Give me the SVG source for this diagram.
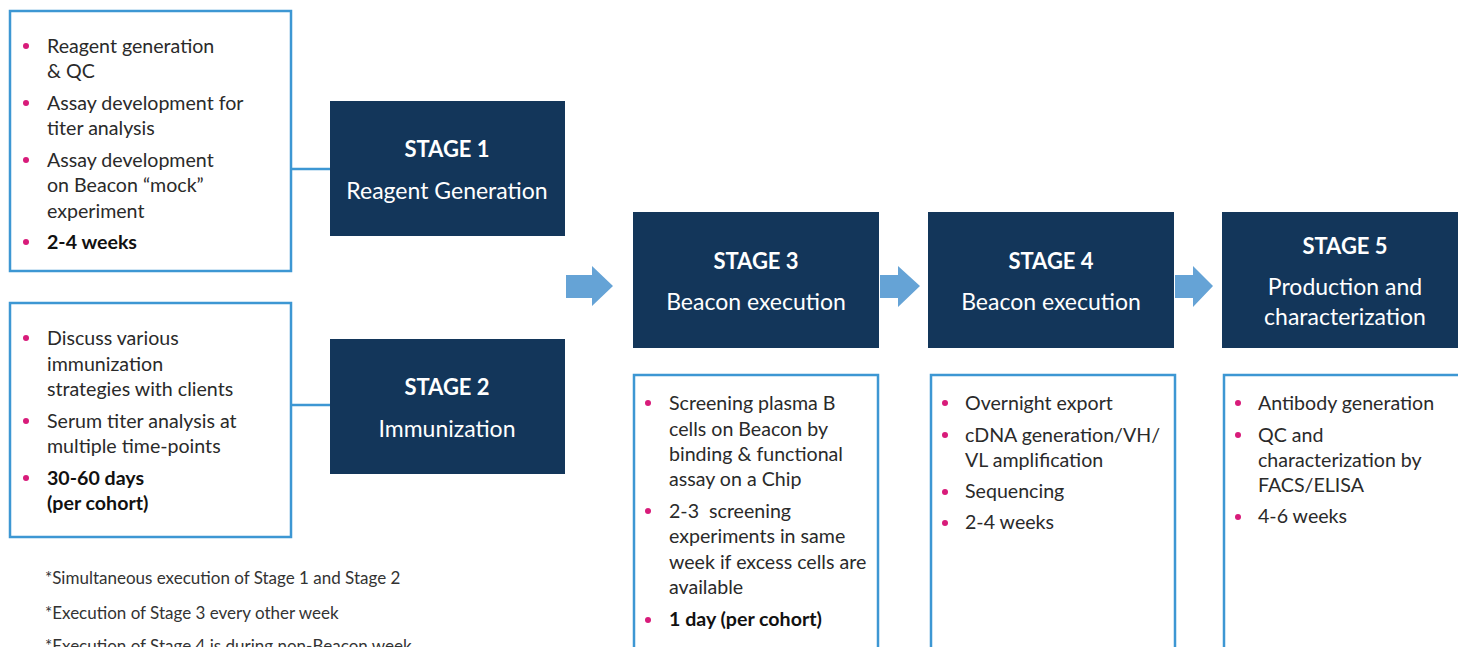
<svg xmlns="http://www.w3.org/2000/svg" width="1458" height="647" viewBox="0 0 1458 647">
<style>
.out{fill:#fff;stroke:#3d97d3;stroke-width:2.5}
.stage{fill:#13365a}
.t{font-family:Lato,"Source Sans Pro","Noto Sans",sans-serif;font-size:19.6px;fill:#2a2a2a}
.b{font-weight:bold;fill:#111}
.dot{fill:#d81b7a}
.h{font-family:Lato,"Noto Sans",sans-serif;fill:#fff;text-anchor:middle}
.h1{font-size:22px;font-weight:bold}
.h2{font-size:23px}
.fn{font-family:Lato,"Noto Sans",sans-serif;font-size:17px;fill:#333}
.conn{stroke:#3d97d3;stroke-width:2.5;fill:none}
.arr{fill:#65a3d6}
</style>
<rect width="1458" height="647" fill="#fff"/>
<g id="connectors">
<line class="conn" x1="291" y1="169" x2="330" y2="169"/>
<line class="conn" x1="291" y1="405" x2="330" y2="405"/>
<polygon class="arr" points="566,275 592,275 592,266 613,286 592,306 592,298 566,298"/>
<polygon class="arr" points="880,275 898,275 898,266 920,286 898,307 898,298 880,298"/>
<polygon class="arr" points="1175,275 1193,275 1193,266 1213,286 1193,307 1193,298 1175,298"/>
</g>
<g id="box1">
<rect class="out" x="10" y="11" width="281" height="260"/>
<circle class="dot" cx="26" cy="46" r="3"/><circle class="dot" cx="26" cy="103" r="3"/><circle class="dot" cx="26" cy="160" r="3"/><circle class="dot" cx="26" cy="242" r="3"/>
<text class="t" x="47" y="53">Reagent generation</text>
<text class="t" x="47" y="78">&amp; QC</text>
<text class="t" x="47" y="110">Assay development for</text>
<text class="t" x="47" y="135">titer analysis</text>
<text class="t" x="47" y="167">Assay development</text>
<text class="t" x="47" y="192">on Beacon “mock”</text>
<text class="t" x="47" y="218">experiment</text>
<text class="t b" x="47" y="249">2-4 weeks</text>
</g>
<g id="stage1">
<rect class="stage" x="330" y="101" width="235" height="135"/>
<text class="h h1" x="447" y="157">STAGE 1</text>
<text class="h h2" x="447" y="199">Reagent Generation</text>
</g>
<g id="box2">
<rect class="out" x="10" y="303" width="281" height="234"/>
<circle class="dot" cx="26" cy="338" r="3"/><circle class="dot" cx="26" cy="421" r="3"/><circle class="dot" cx="26" cy="478" r="3"/>
<text class="t" x="47" y="345">Discuss various</text>
<text class="t" x="47" y="371">immunization</text>
<text class="t" x="47" y="396">strategies with clients</text>
<text class="t" x="47" y="428">Serum titer analysis at</text>
<text class="t" x="47" y="453">multiple time-points</text>
<text class="t b" x="47" y="485">30-60 days</text>
<text class="t b" x="47" y="510">(per cohort)</text>
</g>
<g id="stage2">
<rect class="stage" x="330" y="339" width="235" height="135"/>
<text class="h h1" x="447" y="395">STAGE 2</text>
<text class="h h2" x="447" y="437">Immunization</text>
</g>
<g id="notes">
<text class="fn" x="45" y="584">*Simultaneous execution of Stage 1 and Stage 2</text>
<text class="fn" x="45" y="619">*Execution of Stage 3 every other week</text>
<text class="fn" x="45" y="652">*Execution of Stage 4 is during non-Beacon week</text>
</g>
<g id="stage3">
<rect class="stage" x="633" y="212" width="246" height="136"/>
<text class="h h1" x="756" y="269">STAGE 3</text>
<text class="h h2" x="756" y="310">Beacon execution</text>
</g>
<g id="box3">
<rect class="out" x="634" y="375" width="244" height="280"/>
<circle class="dot" cx="648" cy="403" r="3"/><circle class="dot" cx="648" cy="511" r="3"/><circle class="dot" cx="648" cy="620" r="3"/>
<text class="t" x="669" y="410">Screening plasma B</text>
<text class="t" x="669" y="436">cells on Beacon by</text>
<text class="t" x="669" y="461">binding &amp; functional</text>
<text class="t" x="669" y="486">assay on a Chip</text>
<text class="t" x="669" y="518" xml:space="preserve">2-3  screening</text>
<text class="t" x="669" y="543">experiments in same</text>
<text class="t" x="669" y="569">week if excess cells are</text>
<text class="t" x="669" y="594">available</text>
<text class="t b" x="669" y="626">1 day (per cohort)</text>
</g>
<g id="stage4">
<rect class="stage" x="928" y="212" width="246" height="136"/>
<text class="h h1" x="1051" y="269">STAGE 4</text>
<text class="h h2" x="1051" y="310">Beacon execution</text>
</g>
<g id="box4">
<rect class="out" x="931" y="375" width="244" height="280"/>
<circle class="dot" cx="945" cy="403" r="3"/><circle class="dot" cx="945" cy="435" r="3"/><circle class="dot" cx="945" cy="492" r="3"/><circle class="dot" cx="945" cy="523" r="3"/>
<text class="t" x="965" y="410">Overnight export</text>
<text class="t" x="965" y="442">cDNA generation/VH/</text>
<text class="t" x="965" y="467">VL amplification</text>
<text class="t" x="965" y="498">Sequencing</text>
<text class="t" x="965" y="529">2-4 weeks</text>
</g>
<g id="stage5">
<rect class="stage" x="1222" y="212" width="240" height="136"/>
<text class="h h1" x="1345" y="254">STAGE 5</text>
<text class="h h2" x="1345" y="295">Production and</text>
<text class="h h2" x="1345" y="325">characterization</text>
</g>
<g id="box5">
<rect class="out" x="1224" y="375" width="240" height="280"/>
<circle class="dot" cx="1238" cy="403" r="3"/><circle class="dot" cx="1238" cy="435" r="3"/><circle class="dot" cx="1238" cy="517" r="3"/>
<text class="t" x="1258" y="410">Antibody generation</text>
<text class="t" x="1258" y="442">QC and</text>
<text class="t" x="1258" y="467">characterization by</text>
<text class="t" x="1258" y="492">FACS/ELISA</text>
<text class="t" x="1258" y="523">4-6 weeks</text>
</g>
</svg>
